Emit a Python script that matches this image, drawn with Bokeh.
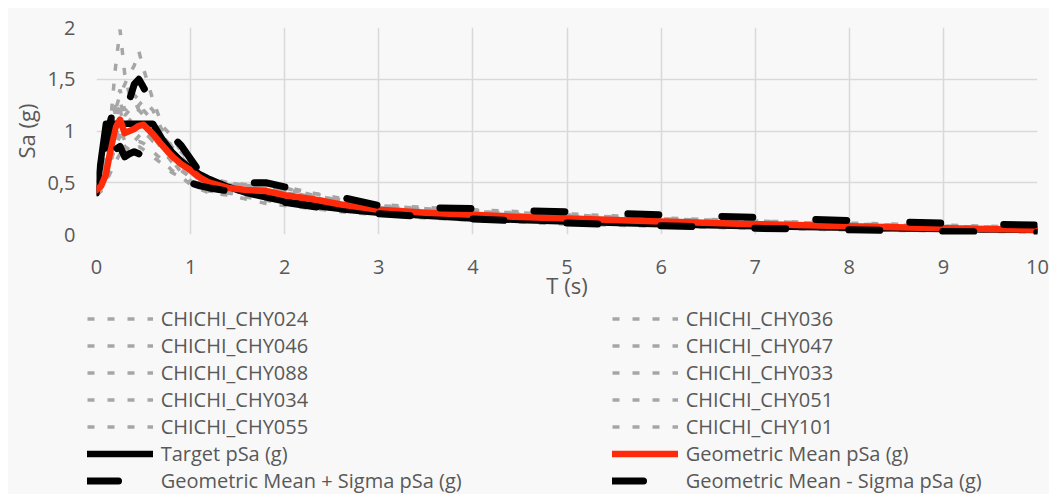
import numpy as np
from bokeh.plotting import figure
from bokeh.layouts import column
from bokeh.models import Legend, LegendItem, Range1d, FixedTicker, CustomJSTickFormatter
from bokeh.embed import file_html
from bokeh.resources import INLINE

# ---------------- data ----------------
T = [0, 0.05, 0.1, 0.15, 0.2, 0.25, 0.3, 0.35, 0.4, 0.45, 0.5, 0.6, 0.7, 0.8, 0.9,
     1.0, 1.1, 1.2, 1.4, 1.6, 1.8, 2.0, 2.3, 2.6, 3.0, 3.5, 4.0, 4.5, 5.0, 6.0, 7.0,
     8.0, 9.0, 10.0]

record_names = ["CHICHI_CHY024", "CHICHI_CHY036", "CHICHI_CHY046", "CHICHI_CHY047",
                "CHICHI_CHY088", "CHICHI_CHY033", "CHICHI_CHY034", "CHICHI_CHY051",
                "CHICHI_CHY055", "CHICHI_CHY101"]

chy024 = [0.45, 0.5, 0.7, 1.1, 1.6, 1.98, 1.55, 1.35, 1.3, 1.2, 1.1, 0.95, 0.85, 0.72, 0.62,
          0.55, 0.5, 0.46, 0.44, 0.5, 0.52, 0.46, 0.4, 0.33, 0.27, 0.24, 0.23, 0.2, 0.18,
          0.14, 0.11, 0.09, 0.07, 0.05]
chy036 = [0.5, 0.55, 0.75, 1.0, 1.2, 1.35, 1.45, 1.55, 1.63, 1.77, 1.6, 1.3, 1.05, 0.95, 0.8,
          0.7, 0.6, 0.55, 0.5, 0.48, 0.45, 0.42, 0.36, 0.3, 0.26, 0.22, 0.2, 0.19, 0.17,
          0.13, 0.11, 0.085, 0.065, 0.05]
chy046 = [0.38, 0.42, 0.5, 0.7, 0.85, 0.95, 0.78, 0.85, 0.9, 0.95, 1.0, 0.9, 0.85, 0.72, 0.6,
          0.52, 0.46, 0.42, 0.4, 0.38, 0.35, 0.3, 0.28, 0.24, 0.21, 0.18, 0.16, 0.14, 0.12,
          0.1, 0.08, 0.06, 0.05, 0.04]
chy047 = [0.42, 0.48, 0.62, 0.9, 1.2, 1.3, 1.1, 1.05, 1.15, 1.2, 1.15, 1.05, 0.95, 0.85, 0.8,
          0.7, 0.6, 0.52, 0.48, 0.47, 0.5, 0.45, 0.38, 0.33, 0.28, 0.25, 0.22, 0.21, 0.19,
          0.15, 0.13, 0.1, 0.08, 0.06]
chy088 = [0.4, 0.44, 0.5, 0.6, 0.7, 0.78, 0.72, 0.8, 0.76, 0.85, 0.82, 0.75, 0.68, 0.6, 0.55,
          0.5, 0.45, 0.42, 0.4, 0.36, 0.33, 0.3, 0.27, 0.23, 0.2, 0.17, 0.15, 0.13, 0.11,
          0.09, 0.07, 0.05, 0.04, 0.03]
chy033 = [0.44, 0.5, 0.65, 0.95, 1.25, 1.4, 1.2, 1.25, 1.35, 1.3, 1.2, 1.1, 0.92, 0.8, 0.72,
          0.62, 0.55, 0.5, 0.46, 0.44, 0.43, 0.4, 0.37, 0.32, 0.27, 0.24, 0.22, 0.2, 0.18,
          0.15, 0.12, 0.1, 0.08, 0.06]
chy034 = [0.4, 0.45, 0.55, 0.75, 0.95, 1.05, 0.9, 0.95, 1.05, 1.1, 1.05, 0.95, 0.82, 0.7, 0.62,
          0.56, 0.5, 0.46, 0.42, 0.4, 0.38, 0.34, 0.3, 0.26, 0.23, 0.2, 0.18, 0.16, 0.14,
          0.11, 0.09, 0.07, 0.055, 0.04]
chy051 = [0.46, 0.5, 0.62, 0.85, 1.05, 1.2, 1.05, 1.1, 1.15, 1.25, 1.3, 1.2, 1.0, 0.85, 0.75,
          0.65, 0.57, 0.52, 0.5, 0.47, 0.45, 0.43, 0.4, 0.35, 0.29, 0.26, 0.24, 0.22, 0.2,
          0.16, 0.13, 0.11, 0.09, 0.07]
chy055 = [0.38, 0.42, 0.52, 0.7, 0.88, 0.98, 0.85, 0.82, 0.88, 0.9, 0.88, 0.8, 0.72, 0.62, 0.56,
          0.48, 0.44, 0.4, 0.38, 0.34, 0.3, 0.28, 0.25, 0.22, 0.19, 0.16, 0.14, 0.12, 0.1,
          0.08, 0.06, 0.045, 0.035, 0.025]
chy101 = [0.43, 0.47, 0.6, 0.88, 1.1, 1.25, 1.15, 1.2, 1.1, 1.0, 0.98, 0.92, 0.88, 0.78, 0.68,
          0.6, 0.52, 0.47, 0.45, 0.44, 0.4, 0.37, 0.33, 0.29, 0.25, 0.22, 0.2, 0.18, 0.16,
          0.13, 0.1, 0.08, 0.065, 0.05]
records = [chy024, chy036, chy046, chy047, chy088, chy033, chy034, chy051, chy055, chy101]

target = [0.4, 0.74, 1.07, 1.07, 1.07, 1.07, 1.07, 1.07, 1.07, 1.07, 1.07, 1.07, 0.92, 0.8, 0.71,
          0.64, 0.58, 0.535, 0.46, 0.4, 0.36, 0.32, 0.28, 0.245, 0.21, 0.18, 0.155, 0.14, 0.125,
          0.1, 0.08, 0.065, 0.053, 0.043]
geomean = [0.43, 0.47, 0.58, 0.82, 1.03, 1.11, 0.98, 1.0, 1.02, 1.05, 1.06, 0.97, 0.86, 0.76, 0.68,
           0.62, 0.55, 0.5, 0.45, 0.43, 0.42, 0.38, 0.34, 0.29, 0.24, 0.21, 0.19, 0.17, 0.155,
           0.125, 0.1, 0.08, 0.06, 0.045]
plus_sigma = [0.62, 0.68, 0.9, 1.1, 1.3, 1.48, 1.45, 1.3, 1.45, 1.5, 1.42, 1.25, 1.1, 0.95, 0.86,
              0.73, 0.6, 0.55, 0.5, 0.5, 0.5, 0.46, 0.42, 0.36, 0.28, 0.26, 0.25, 0.23, 0.22,
              0.19, 0.165, 0.135, 0.11, 0.09]
minus_sigma = [0.36, 0.4, 0.55, 0.7, 0.82, 0.85, 0.75, 0.78, 0.8, 0.78, 0.75, 0.72, 0.65, 0.6, 0.54,
               0.5, 0.47, 0.45, 0.42, 0.38, 0.35, 0.31, 0.27, 0.23, 0.2, 0.17, 0.15, 0.13, 0.11,
               0.085, 0.06, 0.045, 0.03, 0.02]

x_ticks = [0, 1, 2, 3, 4, 5, 6, 7, 8, 9, 10]
y_ticks = [0, 0.5, 1, 1.5, 2]

# ---------------- layout constants ----------------
W = 1041
H_TOTAL = 486
H1 = 295
FRAME_L, FRAME_R, FRAME_T, FRAME_B = 87, 12, 19, 226
PX_X = (W - FRAME_L - FRAME_R) / 10.0   # screen px per x unit
PX_Y = (FRAME_B - FRAME_T) / 2.0        # screen px per y unit

def path_len_to(tx, ys, t_end):
    """screen-space length of the polyline from T=0 up to t_end (for dash phasing)"""
    xs = np.array(tx, dtype=float)
    yv = np.array(ys, dtype=float)
    yi = np.interp(t_end, xs, yv)
    mask = xs < t_end
    xx = np.append(xs[mask], t_end) * PX_X
    yy = np.append(yv[mask], yi) * PY if False else np.append(yv[mask], yi) * PX_Y
    return float(np.sum(np.hypot(np.diff(xx), np.diff(yy))))

DASH_ON, DASH_OFF = 31, 63
PERIOD = DASH_ON + DASH_OFF
plus_offset = (34.5 - path_len_to(T, plus_sigma, 10.0)) % PERIOD
minus_offset = (1.0 - path_len_to(T, minus_sigma, 6.0)) % PERIOD

# ---------------- styles ----------------
BG = "#f8f8f8"
TXT = "#595959"
FONT = "Open Sans"
REC_STYLE = dict(line_color="#a6a6a6", line_width=3.5, line_dash="7 13")
TARGET_STYLE = dict(line_color="black", line_width=6.5, line_join="round", line_cap="round")
GEO_STYLE = dict(line_color="#ff2a0a", line_width=6.5, line_join="round", line_cap="round")
SIGMA_STYLE = dict(line_color="black", line_width=7, line_dash=f"{DASH_ON} {DASH_OFF}",
                   line_join="round", line_cap="round")

# ---------------- main chart ----------------
p = figure(width=W, height=H1, output_backend="svg", toolbar_location=None,
           x_range=Range1d(0, 10), y_range=Range1d(0, 2),
           min_border_left=FRAME_L, min_border_right=FRAME_R, min_border_top=FRAME_T,
           min_border_bottom=H1 - FRAME_B,
           background_fill_color=BG, border_fill_color=BG, outline_line_color=None)

for ax in (p.xaxis[0], p.yaxis[0]):
    ax.axis_line_color = None
    ax.major_tick_line_color = None
    ax.minor_tick_line_color = None
    ax.major_tick_out = 0
    ax.major_tick_in = 0
    ax.major_label_text_font = FONT
    ax.major_label_text_font_size = "20px"
    ax.major_label_text_color = TXT
    ax.axis_label_text_font = FONT
    ax.axis_label_text_font_style = "normal"
    ax.axis_label_text_color = TXT
    ax.axis_label_text_font_size = "22px"

p.xaxis.ticker = FixedTicker(ticks=x_ticks)
p.yaxis.ticker = FixedTicker(ticks=y_ticks)
p.yaxis.formatter = CustomJSTickFormatter(code="return String(tick).replace('.', ',');")
p.xaxis.axis_label = "T (s)"
p.yaxis.axis_label = "Sa (g)"
p.xaxis.major_label_standoff = 25
p.xaxis.axis_label_standoff = -7
p.yaxis.major_label_standoff = 21
p.yaxis.axis_label_standoff = 3

p.xgrid.grid_line_color = "#d9d9d9"
p.ygrid.grid_line_color = "#d9d9d9"
p.xgrid.grid_line_width = 1.5
p.ygrid.grid_line_width = 1.5

for vals in records:
    p.line(T, vals, **REC_STYLE)
p.line(T, target, **TARGET_STYLE)
p.line(T, geomean, **GEO_STYLE)
p.line(T, plus_sigma, line_dash_offset=int(round(plus_offset)), **SIGMA_STYLE)
p.line(T, minus_sigma, line_dash_offset=int(round(minus_offset)), **SIGMA_STYLE)

# ---------------- legend panel ----------------
H2 = H_TOTAL - H1
q = figure(width=W, height=H2, output_backend="svg", toolbar_location=None,
           x_range=Range1d(0, 1), y_range=Range1d(0, 1),
           x_axis_location=None, y_axis_location=None, min_border=0,
           background_fill_color=BG, border_fill_color=BG, outline_line_color=None)
q.xgrid.visible = False
q.ygrid.visible = False

leg_x = 78.7
try:
    p.frame_align = False
    q.frame_align = False
except AttributeError:
    leg_x = 78.7 - FRAME_L

nan_pt = np.array([np.nan])
leg_renderers = [q.line(nan_pt, nan_pt, **REC_STYLE) for _ in records]
leg_renderers.append(q.line(nan_pt, nan_pt, **TARGET_STYLE))
leg_renderers.append(q.line(nan_pt, nan_pt, **GEO_STYLE))
leg_renderers.append(q.line(nan_pt, nan_pt, **SIGMA_STYLE))
leg_renderers.append(q.line(nan_pt, nan_pt, **SIGMA_STYLE))
labels = record_names + ["Target pSa (g)", "Geometric Mean pSa (g)",
                         "Geometric Mean + Sigma pSa (g)", "Geometric Mean - Sigma pSa (g)"]

items = [LegendItem(label=lab, renderers=[r]) for lab, r in zip(labels, leg_renderers)]
legend = Legend(items=items, orientation="horizontal", ncols=2,
                location=(leg_x, 0), padding=0, margin=0, spacing=0,
                glyph_width=66, glyph_height=27, label_width=451, label_height=27,
                label_standoff=8, label_text_font=FONT, label_text_font_size="20px",
                label_text_color=TXT, border_line_color=None, background_fill_alpha=0)
q.add_layout(legend, "center")

layout = column(p, q, spacing=0, margin=(8, 0, 0, 8), styles={"background-color": BG})
open("out.html", "w").write(file_html(layout, INLINE))
